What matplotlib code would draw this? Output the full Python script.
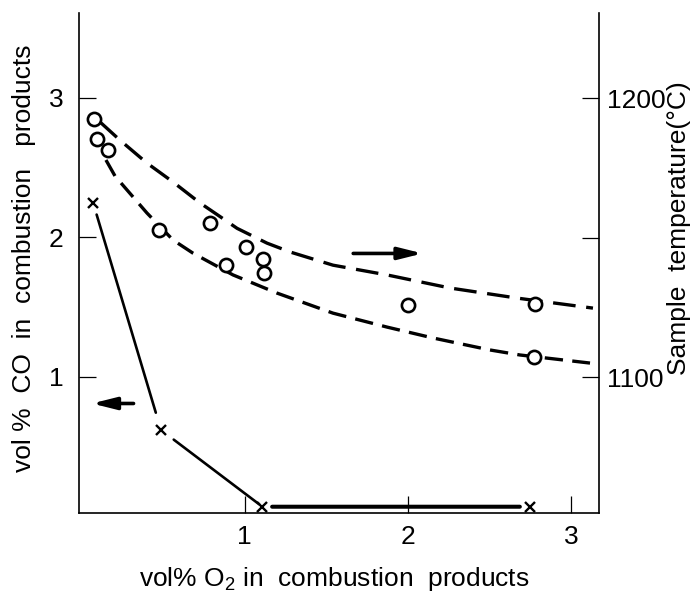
import matplotlib
matplotlib.use("Agg")
import matplotlib.pyplot as plt

plt.rcParams['font.family'] = ['Liberation Sans', 'DejaVu Sans']

# ---- data ----
o2_co = [0.072, 0.488, 1.109, 2.745]
co = [2.25, 0.62, 0.07, 0.07]

o2_temp = [0.080, 0.098, 0.165, 0.478, 0.788, 0.886, 1.009, 1.115, 1.119, 2.002, 2.778, 2.774]
temp = [1192.4, 1185.2, 1181.4, 1152.7, 1155.2, 1140.1, 1146.7, 1142.2, 1137.2, 1125.8, 1126.2, 1107.1]

upper_x = [0.115, 0.237, 0.402, 0.562, 0.727, 0.850, 0.954, 1.137, 1.280, 1.541, 1.872, 2.258, 2.668, 3.133]
upper_t = [1191.4, 1184.9, 1176.7, 1169.9, 1162.4, 1157.5, 1153.3, 1148.0, 1144.8, 1140.1, 1136.6, 1131.9, 1128.3, 1124.7]

lower_x = [0.151, 0.207, 0.402, 0.562, 0.684, 0.929, 1.198, 1.541, 1.872, 2.153, 2.502, 2.686, 3.115]
lower_t = [1177.8, 1172.0, 1158.8, 1149.1, 1144.4, 1136.6, 1130.1, 1122.9, 1117.9, 1114.0, 1109.7, 1107.9, 1105.0]

x_ticks = [1, 2, 3]
co_ticks = [1, 2, 3]
t_ticks = [1100, 1150, 1200]
t_ticklabels = ['1100', '', '1200']

co_arrow_x = [0.32, 0.065]
co_arrow_y = 0.81
t_arrow_x = [1.665, 2.09]
t_arrow_y = 1144.3

# ---- figure ----
fig = plt.figure(figsize=(6.97, 6.01), dpi=100)
ax = fig.add_axes([79/697, 88/601, 520/697, 500/601])
ax2 = ax.twinx()

ax.set_xlim(-0.014, 3.17)
ax.set_ylim(0.025, 3.609)
ax2.set_ylim(1051.25, 1230.5)

for a in (ax, ax2):
    a.spines['top'].set_visible(False)
    for s in a.spines.values():
        s.set_linewidth(1.2)
ax.spines['right'].set_visible(False)
ax2.spines['left'].set_visible(False)
ax2.spines['bottom'].set_visible(False)

ax.set_xticks(x_ticks)
ax.set_xticklabels([str(v) for v in x_ticks])
ax.set_yticks(co_ticks)
ax.set_yticklabels([str(v) for v in co_ticks])
ax2.set_yticks(t_ticks)
ax2.set_yticklabels(t_ticklabels)

ax.tick_params(axis='x', direction='in', length=12, width=0.9, pad=9, labelsize=19)
ax.tick_params(axis='y', direction='in', length=12, width=0.9, pad=11, labelsize=19)
ax2.tick_params(axis='y', direction='in', length=12, width=0.9, pad=6, labelsize=19)

# CO line segments with gaps around the markers
shrinks = [(9, 13), (11.5, 3), (7, 7)]
widths = [1.9, 1.9, 2.9]
for i in range(len(o2_co) - 1):
    ax.annotate('', xy=(o2_co[i + 1], co[i + 1]), xytext=(o2_co[i], co[i]),
                arrowprops=dict(arrowstyle='-', lw=widths[i], color='black',
                                shrinkA=shrinks[i][0], shrinkB=shrinks[i][1]))
ax.plot(o2_co, co, linestyle='none', marker='x', markersize=7.5,
        markeredgewidth=1.7, color='black', zorder=4)

# temperature data and dashed curves
ax2.plot(upper_x, upper_t, color='black', lw=2.4, dashes=(6.8, 3.2))
ax2.plot(lower_x, lower_t, color='black', lw=2.4, dashes=(5.5, 2.8))
ax2.plot(o2_temp, temp, linestyle='none', marker='o', markersize=9.5,
         markerfacecolor='white', markeredgecolor='black', markeredgewidth=1.9, zorder=4)

# arrows
ax.annotate('', xy=(co_arrow_x[1], co_arrow_y), xytext=(co_arrow_x[0], co_arrow_y),
            arrowprops=dict(arrowstyle='-|>,head_length=0.8,head_width=0.2',
                            mutation_scale=18, lw=2.6, color='black',
                            shrinkA=0, shrinkB=0))
ax2.annotate('', xy=(t_arrow_x[1], t_arrow_y), xytext=(t_arrow_x[0], t_arrow_y),
             arrowprops=dict(arrowstyle='-|>,head_length=0.8,head_width=0.2',
                             mutation_scale=18, lw=2.6, color='black',
                             shrinkA=0, shrinkB=0))

# labels
ax.set_xlabel('vol% O$_\\mathregular{2}$ in  combustion  products', fontsize=19)
ax.xaxis.set_label_coords(0.49, -0.104)
ax.set_ylabel('vol %  CO  in  combustion   products', fontsize=19)
ax.yaxis.set_label_coords(-0.083, 0.51)
ax2.set_ylabel('Sample  temperature(°C)', fontsize=19)
ax2.yaxis.set_label_coords(1.13, 0.57)

fig.savefig('out.png', dpi=100)
